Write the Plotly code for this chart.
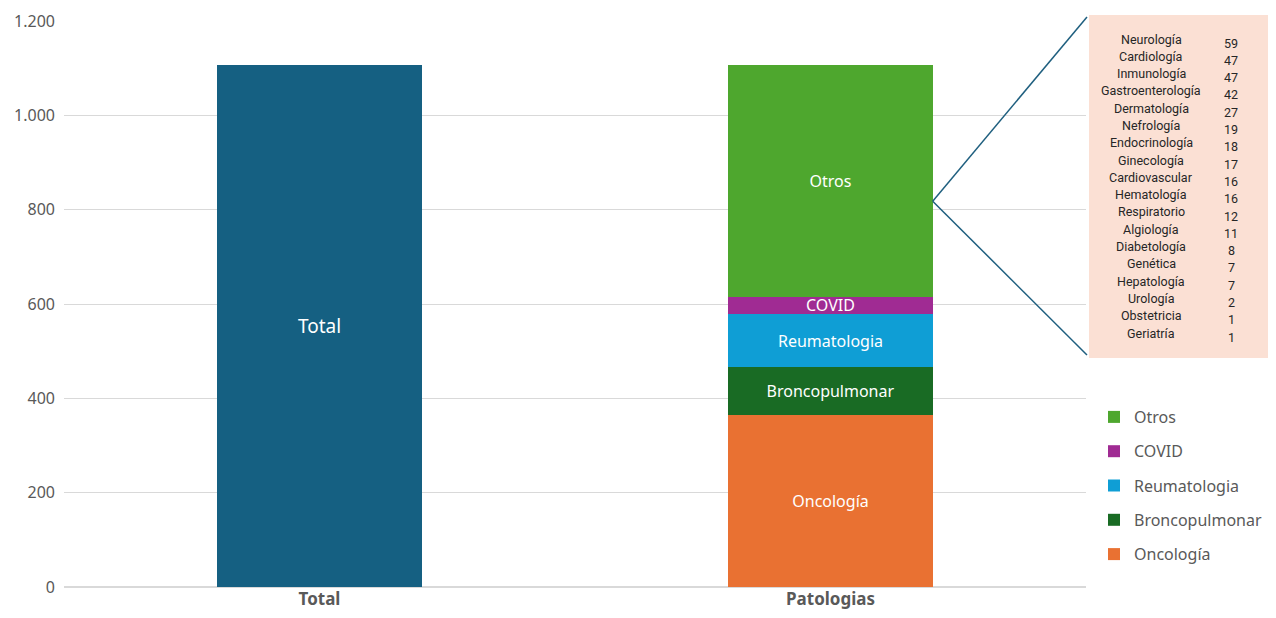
import plotly.graph_objects as go

# ---- data ----
total_label = ["Total"]
total_value = [1107]

categories = ["Oncología", "Broncopulmonar", "Reumatologia", "COVID", "Otros"]
cat_values = [365, 101, 113, 36, 492]
cat_colors = ["#E97132", "#196B24", "#0F9ED5", "#A02B93", "#4EA72E"]

otros_names = ["Neurología", "Cardiología", "Inmunología", "Gastroenterología", "Dermatología",
               "Nefrología", "Endocrinología", "Ginecología", "Cardiovascular", "Hematología",
               "Respiratorio", "Algiología", "Diabetología", "Genética", "Hepatología",
               "Urología", "Obstetricia", "Geriatría"]
otros_values = [59, 47, 47, 42, 27, 19, 18, 17, 16, 16, 12, 11, 8, 7, 7, 2, 1, 1]

x_labels = ["Total", "Patologias"]
y_ticks = [0, 200, 400, 600, 800, 1000, 1200]

OFF = 8  # page body margin
W, H = 1276 - OFF, 618 - OFF
ML, MR, MT, MB = 64 - OFF, 190, 21 - OFF, 31
PW, PH = W - ML - MR, H - MT - MB
YMAX = 1200

def px_x(p):
    return (p - OFF - ML) / PW

def px_y(p):
    return (H - MB - (p - OFF)) / PH

fig = go.Figure()
fig.add_trace(go.Bar(
    x=[x_labels[0]], y=total_value, text=total_label, name="Total",
    marker=dict(color="#156082", line=dict(width=0)),
    textposition="inside", insidetextanchor="middle", constraintext="none",
    textfont=dict(color="white", size=19), showlegend=False, width=0.4,
    hoverinfo="y"))

n = len(categories)
for i, (c, v, col) in enumerate(zip(categories, cat_values, cat_colors)):
    fig.add_trace(go.Bar(
        x=[x_labels[1]], y=[v], name=c, text=[c],
        marker=dict(color=col, line=dict(width=0)),
        textposition="inside", insidetextanchor="middle", constraintext="none",
        textfont=dict(color="white", size=16), width=0.4, legendgroup=c,
        legendrank=n - i))

shapes = []
# callout box
bx0, bx1 = px_x(1089), px_x(1276)
by0, by1 = px_y(358), px_y(15)
shapes.append(dict(type="rect", xref="paper", yref="paper", x0=bx0, x1=bx1, y0=by0, y1=by1,
                   fillcolor="#FBE0D4", line=dict(width=0), layer="below"))
# leader lines from Otros bar edge
ox = (1 + 0.2 + 0.5) / 2.0
oy = 818 / YMAX
for ty in (px_y(17), px_y(355)):
    shapes.append(dict(type="line", xref="paper", yref="paper", x0=ox, y0=oy, x1=px_x(1087), y1=ty,
                       line=dict(color="#1F5F7F", width=1.5)))

annotations = []
for i, (nm, v) in enumerate(zip(otros_names, otros_values)):
    py = 39 + i * 17.3
    annotations.append(dict(xref="paper", yref="paper", x=px_x(1151), y=px_y(py), text=nm,
                            showarrow=False, xanchor="center", yanchor="middle",
                            font=dict(family="Roboto", size=12.5, color="#262626")))
    annotations.append(dict(xref="paper", yref="paper", x=px_x(1231), y=px_y(py + 4), text=str(v),
                            showarrow=False, xanchor="center", yanchor="middle",
                            font=dict(family="Roboto", size=12.5, color="#262626")))

fig.update_layout(
    width=W, height=H,
    margin=dict(l=ML, r=MR, t=MT, b=MB, autoexpand=False),
    barmode="stack",
    plot_bgcolor="white", paper_bgcolor="white",
    separators=",.",
    font=dict(family="Noto Sans", color="#595959"),
    xaxis=dict(categoryorder="array", categoryarray=x_labels, showgrid=False, showline=False,
               ticks="", tickfont=dict(size=17, color="#595959", weight="bold"), range=[-0.5, 1.5],
               automargin=False),
    yaxis=dict(range=[0, YMAX], tickvals=y_ticks, tickformat=",d", showgrid=True,
               gridcolor="#D9D9D9", gridwidth=1, zeroline=True, zerolinecolor="#D9D9D9",
               showline=False, ticks="", tickfont=dict(size=16, color="#595959"), ticklabelstandoff=8,
               automargin=False),
    legend=dict(x=px_x(1094), y=px_y(400), xanchor="left", yanchor="top",
                traceorder="grouped", tracegroupgap=10.5, itemwidth=30,
                font=dict(size=16, color="#595959"), bgcolor="rgba(0,0,0,0)"),
    shapes=shapes, annotations=annotations,
    bargap=0.6,
)

fig.write_html("out.html")
